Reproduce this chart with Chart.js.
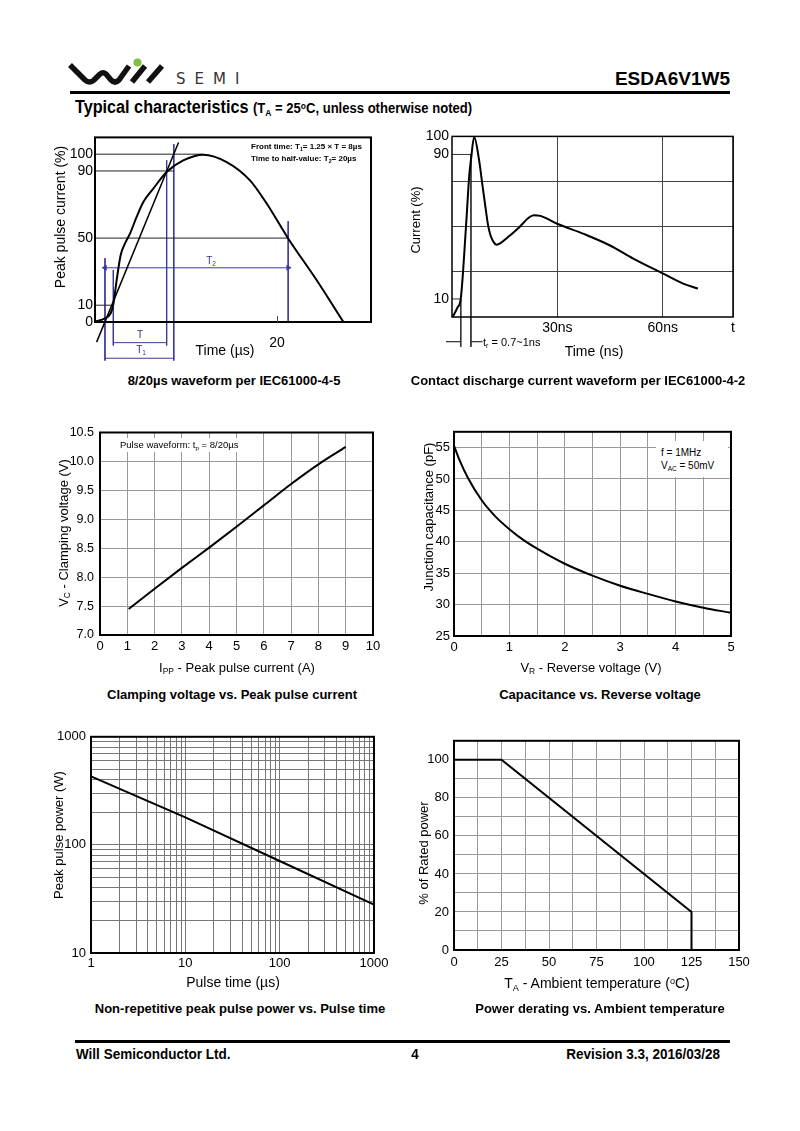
<!DOCTYPE html>
<html><head><meta charset="utf-8">
<script src="https://cdn.jsdelivr.net/npm/chart.js@4.4.1/dist/chart.umd.min.js"></script>
<style>
body{margin:0;background:#fff;}
#page{position:relative;width:800px;height:1131px;overflow:hidden;font-family:'Liberation Sans',Arial,Helvetica,sans-serif;color:#000;background:#fff;}
canvas{position:absolute;}
.t{position:absolute;white-space:nowrap;line-height:1;}
.c{transform:translate(-50%,-50%);}
.l{transform:translate(0,-50%);}
.r{transform:translate(-100%,-50%);}
.ln{transform-origin:0 50%;transform:translate(0,-50%) scaleX(0.9);}
.rn{transform-origin:100% 50%;transform:translate(-100%,-50%) scaleX(0.9);}
.cn{transform:translate(-50%,-50%) scaleX(0.9);}
.rot{transform:translate(-50%,-50%) rotate(-90deg);}
.cap{font-weight:bold;font-size:13px;}
.nar{font-family:'Liberation Sans Narrow','Arial Narrow','Liberation Sans',sans-serif;font-weight:bold;}
sub{font-size:65%;vertical-align:-0.35em;line-height:0;}
sup{font-size:65%;vertical-align:0.45em;line-height:0;}
.hr{position:absolute;background:#000;}
.box{position:absolute;background:#fff;}
</style></head>
<body><div id="page">
<!-- header -->
<svg style="position:absolute;left:65px;top:55px" width="120" height="36">
  <path d="M5,10 L20,25 Q24.5,29 29,25 L35,19 Q38,16.5 41,19 L46,25 Q50,29 54,25 L64,11" fill="none" stroke="#111" stroke-width="5.5" stroke-linejoin="round" stroke-linecap="butt"/>
  <path d="M67,27 L80,11 M83,27 L97,11" fill="none" stroke="#111" stroke-width="5.5"/>
  <circle cx="72.5" cy="7.5" r="4" fill="#7cc242"/>
</svg>
<div class="t l" style="left:176px;top:79px;font-size:15px;letter-spacing:9px;color:#333;font-family:'DejaVu Sans',sans-serif;">SEMI</div>
<div class="t r nar" style="left:730px;top:78px;font-size:19px;">ESDA6V1W5</div>
<div class="hr" style="left:70px;top:91px;width:660px;height:2.5px;"></div>
<div class="t ln nar" style="left:75px;top:107px;font-size:18px;">Typical characteristics <span style="font-size:14.5px">(T<sub>A</sub> = 25<sup>o</sup>C, unless otherwise noted)</span></div>

<canvas id="c1"></canvas><canvas id="c2"></canvas><canvas id="c3"></canvas>
<canvas id="c4"></canvas><canvas id="c5"></canvas><canvas id="c6"></canvas>

<!-- chart 1 texts -->
<div class="t rot" style="left:60px;top:217px;font-size:14px;">Peak pulse current (%)</div>
<div class="t c" style="left:225px;top:350px;font-size:14px;">Time (µs)</div>
<div class="t l nar" style="left:251px;top:147px;font-size:8px;">Front time: T<sub>1</sub>= 1.25 × T = 8µs</div>
<div class="t l nar" style="left:251px;top:159px;font-size:8px;">Time to half-value: T<sub>2</sub>= 20µs</div>
<div class="t c" style="left:211px;top:261px;font-size:10px;color:#33338f;">T<sub>2</sub></div>
<div class="t c" style="left:140px;top:335px;font-size:10px;color:#33338f;">T</div>
<div class="t c" style="left:141px;top:350px;font-size:10px;color:#33338f;">T<sub>1</sub></div>
<!-- chart 2 texts -->
<div class="t rot" style="left:415px;top:220px;font-size:13px;">Current (%)</div>
<div class="t c" style="left:594px;top:351px;font-size:14px;">Time (ns)</div>
<div class="t l" style="left:483px;top:342px;font-size:11px;">t<sub>r</sub> = 0.7~1ns</div>
<!-- chart 3 texts -->
<div class="box" style="left:117px;top:438px;width:126px;height:14px;"></div>
<div class="t l" style="left:120px;top:445px;font-size:9.5px;">Pulse waveform: t<sub>p</sub> = 8/20µs</div>
<div class="t rot" style="left:63px;top:533px;font-size:13px;">V<sub>C</sub> - Clamping voltage (V)</div>
<div class="t c" style="left:237px;top:667px;font-size:13px;">I<sub>PP</sub> - Peak pulse current (A)</div>
<!-- chart 4 texts -->
<div class="box" style="left:656px;top:441px;width:72px;height:36px;"></div>
<div class="t l" style="left:661px;top:453px;font-size:10px;">f = 1MHz</div>
<div class="t l" style="left:661px;top:466px;font-size:10px;">V<sub>AC</sub> = 50mV</div>
<div class="t rot" style="left:428px;top:517px;font-size:13px;">Junction capacitance (pF)</div>
<div class="t c" style="left:591px;top:667px;font-size:13px;">V<sub>R</sub> - Reverse voltage (V)</div>
<!-- chart 5 texts -->
<div class="t rot" style="left:58px;top:835px;font-size:13px;">Peak pulse power (W)</div>
<div class="t c" style="left:233px;top:982px;font-size:14px;">Pulse time (µs)</div>
<!-- chart 6 texts -->
<div class="t rot" style="left:423px;top:853px;font-size:13px;">% of Rated power</div>
<div class="t c" style="left:597px;top:983px;font-size:14px;">T<sub>A</sub> - Ambient temperature (<sup>o</sup>C)</div>

<!-- captions -->
<div class="t c cap" style="left:234px;top:380px;">8/20µs waveform per IEC61000-4-5</div>
<div class="t c cap" style="left:578px;top:380px;">Contact discharge current waveform per IEC61000-4-2</div>
<div class="t c cap" style="left:232px;top:694px;">Clamping voltage vs. Peak pulse current</div>
<div class="t c cap" style="left:600px;top:694px;">Capacitance vs. Reverse voltage</div>
<div class="t c cap" style="left:240px;top:1008px;">Non-repetitive peak pulse power vs. Pulse time</div>
<div class="t c cap" style="left:600px;top:1008px;">Power derating vs. Ambient temperature</div>

<!-- footer -->
<div class="hr" style="left:75px;top:1040px;width:655px;height:2.5px;"></div>
<div class="t ln nar" style="left:76px;top:1053px;font-size:15px;">Will Semiconductor Ltd.</div>
<div class="t cn nar" style="left:415px;top:1053px;font-size:15px;">4</div>
<div class="t rn nar" style="left:720px;top:1053px;font-size:15px;">Revision 3.3, 2016/03/28</div>
</div>
<script>
// ---------- DATA ----------
// Chart 1: 8/20us waveform
const c1Time    = [-1.16,0,0.66,0.97,1.36,1.82,2.33,2.91,3.68,4.46,5.62,7.17,9.1,11.43,14.15,16.86,18.8,21.3,24.6,27.7];
const c1Current = [0.2,2.2,5.2,10.5,25,39.8,46.8,52.7,62.6,71.5,79.5,89.4,96.3,99.7,95.3,84.4,70.6,49.8,25,0.2];
const c1YTicks = [0,10,50,90,100];
const c1XTicks = [20];
const c1TangentT = [-0.97,8.55];
const c1TangentY = [-12,107];
const c1RefLevels = [100,90,50,10];
const c1RefEnds   = [11.43,8.0,21.3,0.97];
const c1MarkT      = [0,0.97,7.17,8.0,21.3];
const c1MarkTop    = [38,31,96.4,106,60];
const c1MarkBottom = [-23,-14,-14,-23,0];
const c1ArrowFrom = [0,0.97,0];
const c1ArrowTo   = [21.3,7.17,8.0];
const c1ArrowY    = [32.3,-12.3,-21.6];
// Chart 2: contact discharge waveform
const c2Time    = [0.2,1.5,2.5,4.0,4.9,5.4,6.3,7.7,8.7,9.6,10.3,11.0,12.0,12.7,13.9,15.8,19.1,21.9,23.3,25.2,30.1,37.5,45,51.6,60.1,65.8,70];
const c2Current = [0,5,10.3,50.5,78,87,99.6,87,72.5,59.7,50.5,45,41,40,41,44,49.6,55.1,56.4,56,51.5,46,39.6,32.3,24,18.5,15.8];
const c2XTicks  = [30,60,80];
const c2XLabels = ['30ns','60ns','t'];
const c2YTicks  = [10,25,50,75,90,100];
const c2YLabels = ['10','','','','90','100'];
const c2RefLevels = [90,10];
const c2RefEnds   = [5.4,2.5];
const c2MarkT = [2.5,5.4];
const c2MarkTop = [10,90];
const c2MarkBottom = -16.5;
const c2ArrowY = -13.7;
const c2ArrowFrom = [-1.7,8.7];
const c2ArrowTo   = [2.5,5.4];
// Chart 3: clamping voltage
const c3Current = [1.05,2,3,4,5,6,7,8,9];
const c3Voltage = [7.45,7.8,8.16,8.51,8.87,9.24,9.61,9.95,10.25];
const c3XTicks = [0,1,2,3,4,5,6,7,8,9,10];
const c3YTicks = [7.0,7.5,8.0,8.5,9.0,9.5,10.0,10.5];
// Chart 4: capacitance
const c4Voltage = [0,0.1,0.25,0.5,0.75,1,1.25,1.5,2,2.5,3,3.5,4,4.5,5];
const c4Cap     = [55.3,53.0,50.2,46.6,44.0,42.0,40.3,38.9,36.5,34.6,33.0,31.7,30.5,29.5,28.7];
const c4XTicks = [0,0.5,1,1.5,2,2.5,3,3.5,4,4.5,5];
const c4YTicks = [25,30,35,40,45,50,55];
// Chart 5: peak pulse power
const c5Time  = [1,10,100,1000];
const c5Power = [430,180,71,28];
const c5XTicks = [1,2,3,4,5,6,7,8,9,10,20,30,40,50,60,70,80,90,100,200,300,400,500,600,700,800,900,1000];
const c5YTicks = [10,20,30,40,50,60,70,80,90,100,200,300,400,500,600,700,800,900,1000];
const c5Labeled = [1,10,100,1000];
// Chart 6: power derating
const c6Temp  = [0,25,125,125];
const c6Power = [100,100,20,0];
const c6XTicks = [0,12.5,25,37.5,50,62.5,75,87.5,100,112.5,125,137.5,150];
const c6YTicks = [0,10,20,30,40,50,60,70,80,90,100,110];

// ---------- HELPERS ----------
Chart.defaults.font.family = "'Liberation Sans', Arial, Helvetica, sans-serif";
Chart.defaults.color = '#000';
Chart.defaults.animation = false;

const framePlugin = {
  id: 'frame',
  afterDraw(chart, args, o) {
    if (!o || !o.width) return;
    const a = chart.chartArea, ctx = chart.ctx;
    ctx.save(); ctx.strokeStyle = '#000'; ctx.lineWidth = o.width;
    ctx.strokeRect(a.left, a.top, a.right - a.left, a.bottom - a.top);
    if (o.innerTicks) {
      ctx.lineWidth = 1; ctx.strokeStyle = '#555';
      o.innerTicks.forEach(v => {
        const x = Math.round(chart.scales.x.getPixelForValue(v)) + 0.5;
        ctx.beginPath(); ctx.moveTo(x, a.bottom); ctx.lineTo(x, a.bottom - 6); ctx.stroke();
      });
    }
    ctx.restore();
  }
};
Chart.register(framePlugin);

function pts(xs, ys) { return xs.map((x, i) => ({x, y: ys[i]})); }
function tickList(list) { return s => { s.ticks = list.map(v => ({value: v})); }; }
function line(data, color, width, extra) {
  return Object.assign({data, borderColor: color, borderWidth: width, pointRadius: 0, showLine: true, fill: false, tension: 0, clip: false}, extra || {});
}
function arrow(x0, x1, y, color, headBoth) {
  const dir = x1 > x0 ? 90 : -90;
  return line([{x: x0, y}, {x: x1, y}], color, 1, {
    pointStyle: 'triangle', pointRadius: headBoth ? [3.5, 3.5] : [0, 3.5],
    rotation: [-dir, dir], backgroundColor: color, pointBorderColor: color, pointBorderWidth: 0
  });
}
function build(id, rect, m, cfg) {
  const cv = document.getElementById(id);
  const w = rect[2] - rect[0] + m.l + m.r, h = rect[3] - rect[1] + m.t + m.b;
  cv.width = w; cv.height = h;
  Object.assign(cv.style, {left: (rect[0] - m.l) + 'px', top: (rect[1] - m.t) + 'px', width: w + 'px', height: h + 'px'});
  const o = cfg.options;
  o.responsive = false; o.maintainAspectRatio = false; o.animation = false;
  o.layout = {padding: {left: 0, top: m.t, right: m.r, bottom: 0}};
  o.scales.x.afterFit = s => { s.height = m.b; };
  o.scales.y.afterFit = s => { s.width = m.l; };
  o.plugins = Object.assign({legend: {display: false}, tooltip: {enabled: false}}, o.plugins || {});
  o.events = [];
  return new Chart(cv, cfg);
}
function axis(type, min, max, ticks, labelFn, pad, size, grid) {
  return {
    type, min, max,
    afterBuildTicks: tickList(ticks),
    ticks: {padding: pad, font: {size}, autoSkip: false, maxRotation: 0, minRotation: 0, callback: labelFn},
    grid: grid || {display: false, drawTicks: false},
    border: {display: false}
  };
}

// ---------- CHART 1 ----------
(function () {
  const blue = '#3a3a9c';
  const ds = [];
  ds.push(line(pts(c1Time, c1Current), '#000', 2, {cubicInterpolationMode: 'monotone'}));
  ds.push(line(pts(c1TangentT, c1TangentY), '#000', 1.5));
  c1RefLevels.forEach((v, i) => ds.push(line([{x: -1.16, y: v}, {x: c1RefEnds[i], y: v}], '#222', 1)));
  c1MarkT.forEach((t, i) => ds.push(line([{x: t, y: c1MarkTop[i]}, {x: t, y: c1MarkBottom[i]}], blue, 1)));
  c1ArrowFrom.forEach((a, i) => ds.push(arrow(a, c1ArrowTo[i], c1ArrowY[i], blue, true)));
  build('c1', [95, 137, 371, 322], {l: 40, t: 10, r: 10, b: 40}, {
    type: 'scatter', data: {datasets: ds},
    options: {
      scales: {
        x: axis('linear', -1.16, 30.93, c1XTicks, v => String(v), 13, 14),
        y: axis('linear', 0, 110, c1YTicks, v => String(v), 2, 14)
      },
      plugins: {frame: {width: 2, innerTicks: c1XTicks}}
    }
  });
})();

// ---------- CHART 2 ----------
(function () {
  const ds = [];
  ds.push(line(pts(c2Time, c2Current), '#000', 2, {cubicInterpolationMode: 'monotone'}));
  c2RefLevels.forEach((v, i) => ds.push(line([{x: 0, y: v}, {x: c2RefEnds[i], y: v}], '#333', 1)));
  c2MarkT.forEach((t, i) => ds.push(line([{x: t, y: c2MarkTop[i]}, {x: t, y: c2MarkBottom}], '#333', 1)));
  c2ArrowFrom.forEach((a, i) => ds.push(arrow(a, c2ArrowTo[i], c2ArrowY, '#000', false)));
  build('c2', [452, 135, 733, 317], {l: 40, t: 10, r: 15, b: 40}, {
    type: 'scatter', data: {datasets: ds},
    options: {
      scales: {
        x: axis('linear', 0, 80, c2XTicks, (v, i) => c2XLabels[i], 3, 14,
          {drawTicks: false, color: '#444', lineWidth: 1}),
        y: axis('linear', 0, 100, c2YTicks, (v, i) => c2YLabels[i], 3, 14,
          {drawTicks: false, lineWidth: 1, color: c => (c.tick && (c.tick.value === 25 || c.tick.value === 50 || c.tick.value === 75)) ? '#444' : 'rgba(0,0,0,0)'})
      },
      plugins: {frame: {width: 1.5}}
    }
  });
})();

// ---------- CHART 3 ----------
build('c3', [100, 429, 373, 635], {l: 45, t: 10, r: 15, b: 40}, {
  type: 'scatter',
  data: {datasets: [line(pts(c3Current, c3Voltage), '#000', 2, {cubicInterpolationMode: 'monotone'})]},
  options: {
    scales: {
      x: axis('linear', 0, 10, c3XTicks, v => String(v), 4, 13, {drawTicks: false, color: '#999', lineWidth: 1}),
      y: axis('linear', 7, 10.5, c3YTicks, v => v.toFixed(1), 6, 12.5, {drawTicks: false, color: '#999', lineWidth: 1})
    },
    plugins: {frame: {width: 2}}
  }
});

// ---------- CHART 4 ----------
build('c4', [454, 430, 731, 636], {l: 40, t: 10, r: 15, b: 40}, {
  type: 'scatter',
  data: {datasets: [line(pts(c4Voltage, c4Cap), '#000', 2, {cubicInterpolationMode: 'monotone'})]},
  options: {
    scales: {
      x: axis('linear', 0, 5, c4XTicks, v => Number.isInteger(v) ? String(v) : '', 4, 13, {drawTicks: false, color: '#999', lineWidth: 1}),
      y: axis('linear', 25, 57.5, c4YTicks, v => String(v), 4, 13, {drawTicks: false, color: '#999', lineWidth: 1})
    },
    plugins: {frame: {width: 2}}
  }
});

// ---------- CHART 5 ----------
build('c5', [91, 734, 374, 953], {l: 45, t: 10, r: 20, b: 40}, {
  type: 'scatter',
  data: {datasets: [line(pts(c5Time, c5Power), '#000', 2)]},
  options: {
    scales: {
      x: axis('logarithmic', 1, 1000, c5XTicks, v => c5Labeled.includes(v) ? String(v) : '', 3, 13, {drawTicks: false, color: '#777', lineWidth: 1}),
      y: axis('logarithmic', 10, 1000, c5YTicks, v => c5Labeled.includes(v) ? String(v) : '', 5, 13, {drawTicks: false, color: '#777', lineWidth: 1})
    },
    plugins: {frame: {width: 2}}
  }
});

// ---------- CHART 6 ----------
build('c6', [454, 738, 739, 950], {l: 40, t: 10, r: 20, b: 40}, {
  type: 'scatter',
  data: {datasets: [line(pts(c6Temp, c6Power), '#000', 2)]},
  options: {
    scales: {
      x: axis('linear', 0, 150, c6XTicks, v => (v % 25 === 0) ? String(v) : '', 5, 13, {drawTicks: false, color: '#999', lineWidth: 1}),
      y: axis('linear', 0, 110, c6YTicks, v => (v % 20 === 0 && v <= 100) ? String(v) : '', 5, 13, {drawTicks: false, color: '#999', lineWidth: 1})
    },
    plugins: {frame: {width: 2}}
  }
});
</script>
</body></html>
